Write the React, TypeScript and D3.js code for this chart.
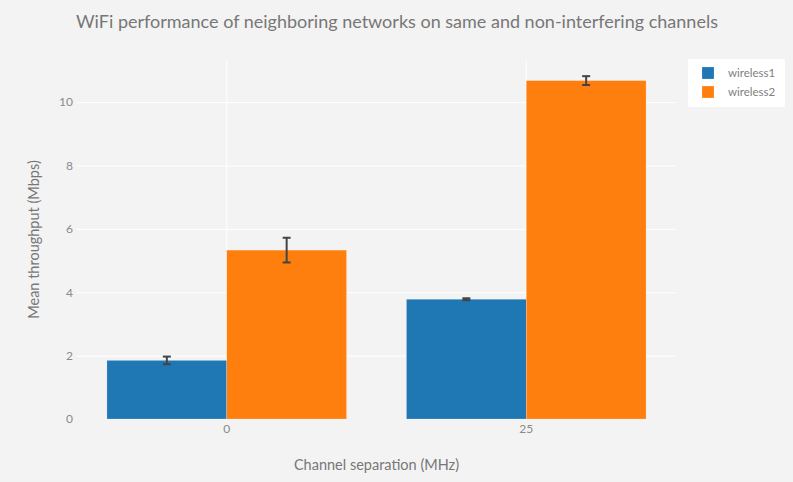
import React, { useEffect, useRef } from "react";
import { select, scaleBand, scaleLinear, axisLeft, axisBottom } from "d3";

const categories = ["0", "25"];
const seriesNames = ["wireless1", "wireless2"];
const wireless1 = [1.85, 3.78];
const wireless2 = [5.33, 10.68];
const wireless1Err = [0.12, 0.03];
const wireless2Err = [0.39, 0.14];
const yTicks = [0, 2, 4, 6, 8, 10];
const colors = ["#1f77b4", "#ff7f0e"];

const W = 793;
const H = 482;
const margin = { left: 77, right: 117, top: 60, bottom: 63 };
const FONT = "Lato, 'Open Sans', sans-serif";

export default function App() {
  const svgRef = useRef<SVGSVGElement | null>(null);

  useEffect(() => {
    document.body.style.margin = "0";
    const svg = select(svgRef.current);
    svg.selectAll("*").remove();

    const innerW = W - margin.left - margin.right;
    const innerH = H - margin.top - margin.bottom;

    svg.append("rect").attr("width", W).attr("height", H).attr("fill", "#f3f3f3");

    const x = scaleBand().domain(categories).range([0, innerW]);
    const xSub = scaleBand()
      .domain(seriesNames)
      .range([0, x.bandwidth() * 0.8]);
    const y = scaleLinear().domain([0, 11.33]).range([innerH, 0]);

    const g = svg
      .append("g")
      .attr("transform", `translate(${margin.left},${margin.top})`);

    // grid
    const yAxis = g
      .append("g")
      .call(axisLeft(y).tickValues(yTicks).tickSize(-innerW).tickPadding(4));
    yAxis.select(".domain").remove();
    yAxis.selectAll(".tick line").attr("stroke", "#ffffff").attr("stroke-width", 1);
    yAxis.selectAll(".tick").filter((d: any) => d === 0).select("line").remove();
    yAxis
      .selectAll("text")
      .attr("fill", "#8a8a8a")
      .style("font-family", FONT)
      .style("font-size", "12px");

    const xAxis = g
      .append("g")
      .attr("transform", `translate(0,${innerH})`)
      .call(axisBottom(x).tickSize(innerH).tickPadding(-innerH + 5));
    xAxis.select(".domain").remove();
    xAxis
      .selectAll(".tick line")
      .attr("stroke", "#ffffff")
      .attr("transform", `translate(0,${-innerH})`);
    xAxis
      .selectAll("text")
      .attr("fill", "#8a8a8a")
      .style("font-family", FONT)
      .style("font-size", "12px");

    const series = [
      { name: seriesNames[0], values: wireless1, err: wireless1Err, color: colors[0] },
      { name: seriesNames[1], values: wireless2, err: wireless2Err, color: colors[1] },
    ];

    series.forEach((s) => {
      const bars = g.append("g");
      categories.forEach((c, i) => {
        const bx = (x(c) as number) + x.bandwidth() * 0.1 + (xSub(s.name) as number);
        bars
          .append("rect")
          .attr("x", bx)
          .attr("y", y(s.values[i]))
          .attr("width", xSub.bandwidth())
          .attr("height", innerH - y(s.values[i]))
          .attr("fill", s.color)
          .attr("stroke", "rgba(255,255,255,0.4)")
          .attr("stroke-width", 0.5);
      });
    });

    series.forEach((s) => {
      const eb = g.append("g").attr("stroke", "#444444").attr("stroke-width", 2);
      categories.forEach((c, i) => {
        const cx =
          (x(c) as number) +
          x.bandwidth() * 0.1 +
          (xSub(s.name) as number) +
          xSub.bandwidth() / 2;
        const hi = y(s.values[i] + s.err[i]);
        const lo = y(s.values[i] - s.err[i]);
        eb.append("line").attr("x1", cx).attr("x2", cx).attr("y1", hi).attr("y2", lo);
        eb.append("line").attr("x1", cx - 4).attr("x2", cx + 4).attr("y1", hi).attr("y2", hi);
        eb.append("line").attr("x1", cx - 4).attr("x2", cx + 4).attr("y1", lo).attr("y2", lo);
      });
    });

    // title & axis labels
    svg
      .append("text")
      .attr("x", 397)
      .attr("y", 28)
      .attr("text-anchor", "middle")
      .attr("fill", "#777777")
      .style("font-family", FONT)
      .style("font-size", "18px")
      .text("WiFi performance of neighboring networks on same and non-interfering channels");

    svg
      .append("text")
      .attr("x", margin.left + innerW / 2)
      .attr("y", 470)
      .attr("text-anchor", "middle")
      .attr("fill", "#777777")
      .style("font-family", FONT)
      .style("font-size", "14.5px")
      .text("Channel separation (MHz)");

    svg
      .append("text")
      .attr("transform", `translate(39,${margin.top + innerH / 2}) rotate(-90)`)
      .attr("text-anchor", "middle")
      .attr("fill", "#777777")
      .style("font-family", FONT)
      .style("font-size", "14.5px")
      .text("Mean throughput (Mbps)");

    // legend
    const legend = svg.append("g").attr("transform", "translate(688,59)");
    legend.append("rect").attr("width", 97).attr("height", 48).attr("fill", "#ffffff");
    series.forEach((s, i) => {
      const row = legend.append("g").attr("transform", `translate(0,${8 + i * 19})`);
      row
        .append("rect")
        .attr("x", 14)
        .attr("y", 0)
        .attr("width", 12)
        .attr("height", 12)
        .attr("fill", s.color)
        .attr("stroke", "rgba(255,255,255,0.4)")
        .attr("stroke-width", 0.5);
      row
        .append("text")
        .attr("x", 40)
        .attr("y", 10)
        .attr("fill", "#808080")
        .style("font-family", FONT)
        .style("font-size", "11.5px")
        .text(s.name);
    });
  }, []);

  return <svg ref={svgRef} width={W} height={H} style={{ display: "block" }} />;
}
